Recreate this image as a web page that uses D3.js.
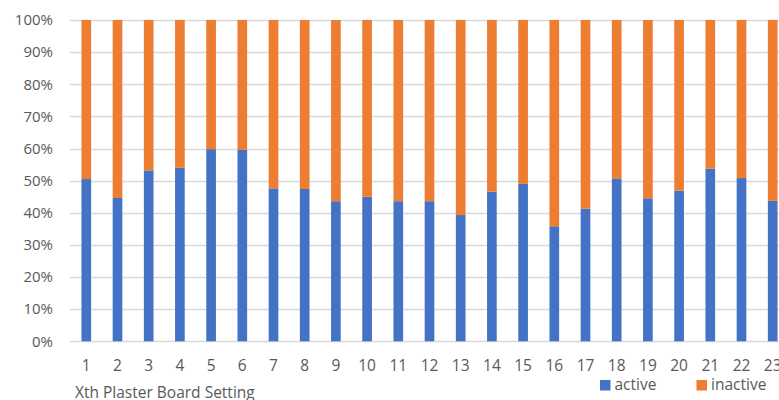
<!DOCTYPE html>
<html>
<head>
<meta charset="utf-8">
<script src="https://cdn.jsdelivr.net/npm/d3@7"></script>
<style>
  html, body { margin: 0; padding: 0; background: #fff; overflow: hidden; }
  svg { display: block; }
  text { font-family: "Open Sans", "Noto Sans", sans-serif; fill: #595959; }
</style>
</head>
<body>
<svg id="chart" width="779" height="400"></svg>
<script>
const categories = ["1","2","3","4","5","6","7","8","9","10","11","12","13","14","15","16","17","18","19","20","21","22","23"];
const activeValues = [50.5, 44.6, 53.2, 54.0, 59.8, 59.6, 47.6, 47.4, 43.6, 45.0, 43.6, 43.6, 39.3, 46.6, 49.0, 35.8, 41.3, 50.7, 44.5, 46.9, 53.7, 50.8, 43.7];
const inactiveValues = activeValues.map(v => 100 - v);
const seriesNames = ["active", "inactive"];
const seriesColors = ["#4472C4", "#ED7D31"];
const yTicks = [0, 10, 20, 30, 40, 50, 60, 70, 80, 90, 100];
const xTitle = "Xth Plaster Board Setting";

const svg = d3.select("#chart");
const x = d3.scaleBand().domain(categories).range([70.7, 70.7 + 31.2 * 23]).paddingInner(0.69).paddingOuter(0.345);
const y = d3.scaleLinear().domain([0, 100]).range([341.3, 20]);

// gridlines
svg.append("g").selectAll("line").data(yTicks).join("line")
  .attr("x1", 70).attr("x2", 779)
  .attr("y1", d => Math.round(y(d)) + 0.5).attr("y2", d => Math.round(y(d)) + 0.5)
  .attr("stroke", "#d9d9d9").attr("stroke-width", 1.3);

// y labels
svg.append("g").selectAll("text").data(yTicks).join("text")
  .attr("x", 53).attr("y", d => y(d)).attr("dy", "0.35em")
  .attr("text-anchor", "end").style("font-size", "15px")
  .text(d => d + "%");

const rows = categories.map((c, i) => ({cat: c, active: activeValues[i], inactive: inactiveValues[i]}));
const stack = d3.stack().keys(["active", "inactive"])(rows);

svg.append("g").selectAll("g").data(stack).join("g")
  .attr("fill", (d, i) => seriesColors[i])
  .selectAll("rect").data(d => d).join("rect")
  .attr("x", d => x(d.data.cat))
  .attr("width", x.bandwidth())
  .attr("y", d => y(d[1]))
  .attr("height", d => y(d[0]) - y(d[1]));

// x labels
svg.append("g").selectAll("text").data(categories).join("text")
  .attr("x", d => x(d) + x.bandwidth() / 2).attr("y", 371)
  .attr("text-anchor", "middle").style("font-size", "15.5px")
  .text(d => d);

// x title
svg.append("text").attr("x", 75).attr("y", 398).style("font-size", "15.5px").text(xTitle);

// legend
const legX = [600, 696.5];
const leg = svg.append("g").selectAll("g").data(seriesNames).join("g")
  .attr("transform", (d, i) => `translate(${legX[i]},380)`);
leg.append("rect").attr("width", 10.5).attr("height", 10.5).attr("fill", (d, i) => seriesColors[i]);
leg.append("text").attr("x", 14.5).attr("y", 10).style("font-size", "15.5px").text(d => d);
</script>
</body>
</html>
